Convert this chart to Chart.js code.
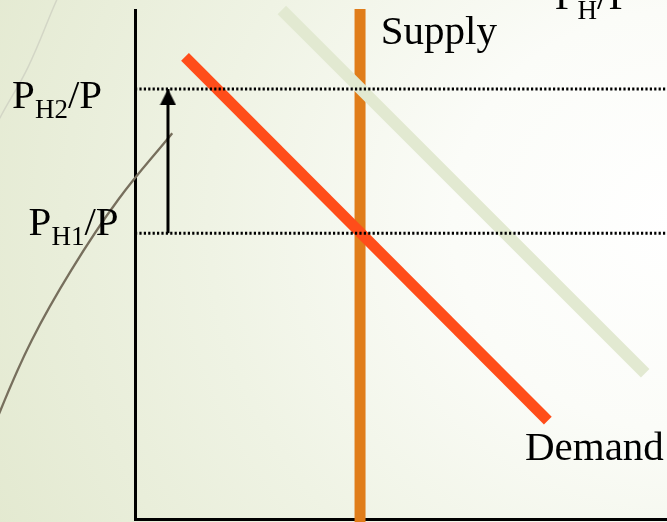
<!DOCTYPE html>
<html>
<head>
<meta charset="utf-8">
<script src="https://cdn.jsdelivr.net/npm/chart.js@4/dist/chart.umd.min.js"></script>
<style>
  html, body { margin: 0; padding: 0; overflow: hidden; }
  #wrap {
    width: 667px; height: 522px; position: relative;
    background: radial-gradient(ellipse 760px 700px at 680px 220px, #ffffff 0%, #fbfcf8 30%, #eff3e4 62%, #e3e9d0 100%);
  }
</style>
</head>
<body>
<div id="wrap"><canvas id="chart"></canvas></div>
<script>
// price levels (PH1/P, PH2/P) and quantity supplied
const priceLevels = [5.62, 8.45]
const supplyQty = 4.23
const supplyY = [-0.06, 10.02]

// demand before and after the shift
const demandX = [0.94, 7.76]
const demandY = [9.08, 1.94]
const demandNewX = [2.76, 9.59]
const demandNewY = [10.0, 2.87]

// arrow showing the rise in price
const arrowX = 0.62

// slide decoration arcs
const arcX = [0.70, -0.32, -1.20, -1.94, -2.53, -2.94]
const arcY = [7.58, 6.27, 4.89, 3.52, 2.14, 0.96]
const faintX = [-1.37, -1.47, -2.01, -2.54, -2.73]
const faintY = [10.39, 10.20, 8.88, 7.88, 7.45]

// text labels: parts are [main, subscript, main]
const labels = [
    {parts: ['P', 'H2', '/P'], x: -2.31, y: 8.07},
    {parts: ['P', 'H1', '/P'], x: -2.00, y: 5.58},
    {parts: ['P', 'H', '/P'], x: 7.89, y: 10.02},
    {parts: ['Supply'], x: 4.62, y: 9.33},
    {parts: ['Demand'], x: 7.33, y: 1.16}
]

function pts(xs, ys) {
    return xs.map((x, i) => ({x: x, y: ys[i]}))
}

// arrow head image, tip sits at the point centre
const arrowHead = document.createElement('canvas')
arrowHead.width = 17
arrowHead.height = 32
const ah = arrowHead.getContext('2d')
ah.fillStyle = '#000'
ah.beginPath()
ah.moveTo(8.5, 16)
ah.lineTo(0.5, 32)
ah.lineTo(16.5, 32)
ah.closePath()
ah.fill()

const FONT = '"Liberation Serif", "Times New Roman", serif'

const labelPlugin = {
    id: 'labels',
    afterDatasetsDraw(chart) {
        const ctx = chart.ctx
        const xs = chart.scales.x, ys = chart.scales.y
        ctx.save()
        ctx.fillStyle = '#000'
        ctx.textBaseline = 'alphabetic'
        ctx.textAlign = 'left'
        labels.forEach(l => {
            let px = xs.getPixelForValue(l.x)
            const py = ys.getPixelForValue(l.y)
            l.parts.forEach((p, i) => {
                const sub = i % 2 === 1
                ctx.font = (sub ? '27px ' : '41px ') + FONT
                ctx.fillText(p, px, py + (sub ? 10 : 0))
                px += ctx.measureText(p).width
            })
        })
        ctx.restore()
    }
}

const datasets = [
    // dotted price levels
    ...priceLevels.map(p => ({
        data: pts([0, 10], [p, p]),
        borderColor: '#000', borderWidth: 3, borderDash: [2.2, 2.2]
    })),
    {
        data: pts([arrowX, arrowX], priceLevels),
        borderColor: '#000', borderWidth: 3,
        pointStyle: c => c.dataIndex === 1 ? arrowHead : 'circle',
        pointRadius: c => c.dataIndex === 1 ? 5 : 0
    },
    {
        data: pts(demandX, demandY),
        borderColor: '#ff4d1a', borderWidth: 11
    },
    {
        data: pts(demandNewX, demandNewY),
        borderColor: '#e2e9d1', borderWidth: 12
    },
    {
        data: pts([supplyQty, supplyQty], supplyY),
        borderColor: '#e07d1a', borderWidth: 11
    },
    {
        data: pts(arcX, arcY),
        borderColor: '#776f5d', borderWidth: 2.3, tension: 0.4, capBezierPoints: false
    },
    {
        data: pts(faintX, faintY),
        borderColor: '#d3d6c6', borderWidth: 1.5, tension: 0.4, capBezierPoints: false
    }
].map(d => Object.assign({showLine: true, pointRadius: 0, clip: false, borderCapStyle: 'butt'}, d))

new Chart(document.getElementById('chart'), {
    type: 'scatter',
    data: {datasets: datasets},
    options: {
        responsive: true,
        maintainAspectRatio: false,
        animation: false,
        layout: {autoPadding: false, padding: {left: 135, right: 0, top: 10, bottom: 2.5}},
        plugins: {legend: {display: false}, tooltip: {enabled: false}},
        scales: {
            x: {
                min: 0, max: 10,
                grid: {display: false, drawTicks: false},
                ticks: {display: false},
                border: {display: true, color: '#000', width: 3}
            },
            y: {
                min: 0, max: 10,
                grid: {display: false, drawTicks: false},
                ticks: {display: false},
                border: {display: true, color: '#000', width: 3}
            }
        }
    },
    plugins: [labelPlugin]
})
</script>
</body>
</html>
